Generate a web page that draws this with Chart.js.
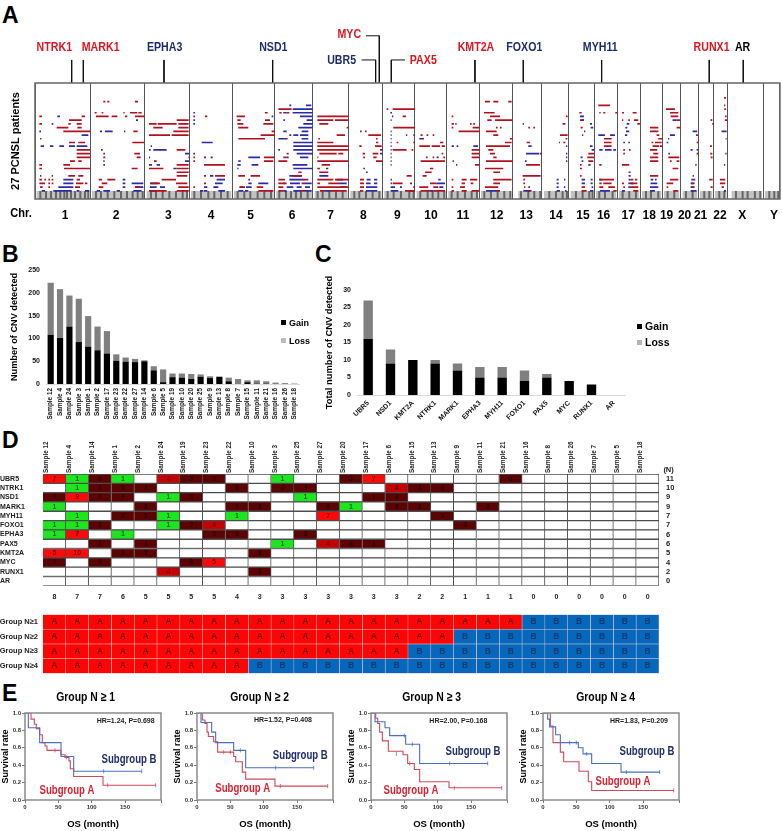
<!DOCTYPE html>
<html>
<head>
<meta charset="utf-8">
<title>CNV in PCNSL</title>
<script src="https://cdn.jsdelivr.net/npm/chart.js@4/dist/chart.umd.min.js"></script>
<style>
    html, body { margin: 0; padding: 0; background: #fff; }
    #page { position: relative; width: 782px; height: 831px; overflow: hidden; }
    canvas { position: absolute; }
    .letter { position: absolute; font: bold 23px "Liberation Sans", Arial, sans-serif; line-height: 1; color: #000; }
    .legend { position: absolute; font: bold 9px "Liberation Sans", Arial, sans-serif; line-height: 12px; color: #000; white-space: nowrap; }
    .legend i { display: inline-block; width: 5px; height: 5px; margin-right: 3px; vertical-align: 1px; }
</style>
</head>
<body>
<div id="page">
    <div class="letter" style="left:2px;top:4px">A</div>
    <div class="letter" style="left:2px;top:243px">B</div>
    <div class="letter" style="left:315px;top:243px">C</div>
    <div class="letter" style="left:2px;top:429px">D</div>
    <div class="letter" style="left:2px;top:682px">E</div>

    <canvas id="chartA" width="787" height="225" style="left:0;top:0"></canvas>
    <canvas id="chartB" width="310" height="205" style="left:0;top:225px"></canvas>
    <canvas id="chartC" width="320" height="190" style="left:310px;top:235px"></canvas>
    <canvas id="chartD" width="690" height="180" style="left:0;top:430px"></canvas>
    <canvas id="chartGroups" width="690" height="78" style="left:0;top:605px"></canvas>
    <canvas id="km1" width="172" height="156" style="left:0;top:675px"></canvas>
    <canvas id="km2" width="172" height="156" style="left:172px;top:675px"></canvas>
    <canvas id="km3" width="172" height="156" style="left:346px;top:675px"></canvas>
    <canvas id="km4" width="172" height="156" style="left:518px;top:675px"></canvas>

    <div class="legend" style="left:281px;top:317px"><i style="background:#000"></i>Gain</div>
    <div class="legend" style="left:281px;top:335px"><i style="background:#bdbdbd"></i>Loss</div>
    <div class="legend" style="left:637px;top:320px;font-size:10.5px"><i style="background:#000"></i>Gain</div>
    <div class="legend" style="left:637px;top:336px;font-size:10.5px"><i style="background:#b5b5b5"></i>Loss</div>
</div>

<script>
const FONT = '"Liberation Sans", Arial, sans-serif';
const RED = '#e0141f';
const NAVY = '#1d2c6b';

// --- panel A: position axis runs along the genome, rows are patients
const chrNames = ['1','2','3','4','5','6','7','8','9','10','11','12','13','14','15','16','17','18','19','20','21','22','X','Y'];
const chrEdges = [105,271,435,568,697,824,939,1046,1148,1245,1340,1438,1538,1626,1705,1783,1852,1921,1987,2041,2095,2140,2182,2290,2340];
const chrLabelPos = [195,348,505,633,752,876,992,1090,1192,1293,1389,1490,1579,1668,1749,1811,1885,1948,2000,2054,2102,2160,2227,2322];

const geneNames = ['NTRK1','MARK1','EPHA3','NSD1','UBR5','MYC','PAX5','KMT2A','FOXO1','MYH11','RUNX1','AR'];
const geneColors = [RED,RED,NAVY,NAVY,NAVY,RED,RED,RED,NAVY,NAVY,RED,'#000'];
const geneLabelX = [163,302,494,820,1025,1048,1270,1428,1573,1801,2135,2228];
const geneLabelRow = [-9.5,-9.5,-9.5,-9.5,-6.1,-13.1,-6.1,-9.5,-9.5,-9.5,-9.5,-9.5];
const geneLeaders = [
    [[215,-6.2],[215,0]],
    [[250,-6.2],[250,0]],
    [[492,-6.2],[492,0]],
    [[818,-6.2],[818,0]],
    [[1085,-6.2],[1127,-6.2],[1127,0]],
    [[1098,-12.7],[1138,-12.7],[1138,0]],
    [[1215,-6.2],[1174,-6.2],[1174,0]],
    [[1425,-6.2],[1425,0]],
    [[1570,-6.2],[1570,0]],
    [[1805,-6.2],[1805,0]],
    [[2128,-6.2],[2128,0]],
    [[2230,-6.2],[2230,0]]
];

const gainSegments = [
    [9,118,126],[10,207,245],[9,245,255],[11,118,126],[12,170,205],[11,205,212],[11,230,245],[12,232,245],[13,190,270],[16,207,225],[16,235,255],[18,230,270],[19,230,270],[20,230,270],[21,210,225],[21,235,245],[22,118,126],[23,118,126],[22,190,210],[23,192,270],[25,205,225],[25,235,250],[26,118,126],[26,133,138],[26,145,150],[26,155,160],[27,118,135],[27,145,150],[27,155,160],[26,230,240],[27,228,250],[27,255,262],[28,120,128],[28,145,150],[28,225,240],
    [5,310,316],[5,322,328],[5,405,414],[8,284,290],[9,288,326],[9,335,352],[8,305,310],[9,375,382],[8,370,374],[8,390,412],[8,415,425],[9,405,433],[13,400,413],[16,397,433],[19,403,420],[20,410,422],[19,310,315],[20,310,316],[22,310,315],[23,395,413],[26,296,306],[26,322,346],[27,305,322],[28,296,310],[28,405,420],
    [10,530,566],[11,447,470],[11,473,530],[11,535,566],[12,460,488],[12,535,566],[13,520,566],[14,447,510],[14,515,566],[18,530,556],[20,565,568],[21,462,470],[22,530,566],[23,447,490],[23,530,566],[24,530,566],[25,530,562],[26,485,528],[27,452,480],[27,528,562],[28,535,566],[29,447,500],[29,530,566],
    [9,580,585],[9,615,622],[20,580,585],[21,580,585],[22,612,675],[25,612,618],[25,645,675],[27,612,618],[28,580,585],
    [9,710,735],[10,712,722],[8,795,803],[10,795,810],[11,712,730],[11,790,820],[12,715,745],[13,815,824],[14,782,824],[15,715,795],[20,792,824],[21,792,820],[25,715,735],[25,752,780],[28,718,735],[28,770,790],[29,775,820],
    [7,835,875],[8,860,868],[8,838,845],[15,858,863],[20,850,860],[19,860,866],[21,835,862],[25,880,905],[24,895,905],[26,835,855],[27,835,860],[26,908,925],[27,905,915],[28,835,850],[29,835,850],[29,900,915],
    [9,952,1045],[10,952,1000],[10,1005,1045],[11,958,985],[12,1040,1046],[14,1010,1035],[15,955,960],[16,952,1000],[17,952,1045],[18,952,1045],[19,958,1010],[19,1015,1030],[20,952,955],[21,952,1045],[22,965,990],[23,952,960],[24,958,985],[26,952,1000],[26,1005,1045],[27,952,960],[27,985,1020],[28,952,1045],[29,960,975],[29,990,1040],
    [13,1080,1085],[13,1095,1100],[14,1105,1143],[15,1128,1133],[16,1128,1135],[17,1078,1085],[17,1125,1145],[18,1140,1148],[19,1088,1095],[19,1118,1135],[20,1090,1095],[20,1120,1130],[21,1128,1148],[26,1080,1092],[27,1080,1092],[28,1080,1092],[29,1080,1090],
    [7,1160,1165],[7,1178,1245],[9,1208,1218],[12,1180,1245],[14,1218,1222],[14,1240,1244],[16,1240,1245],[18,1178,1220],[16,1190,1195],[25,1220,1235],[27,1178,1208],[27,1230,1236],[29,1215,1245],[28,1240,1245],[18,1235,1240],
    [14,1262,1268],[14,1280,1285],[14,1298,1303],[16,1320,1330],[17,1258,1290],[17,1295,1320],[17,1325,1335],[19,1325,1330],[20,1330,1335],[20,1278,1283],[20,1298,1303],[21,1262,1335],[23,1290,1300],[24,1275,1295],[25,1268,1280],[27,1290,1310],[28,1258,1285],[28,1300,1315],[29,1262,1290],[29,1300,1335],
    [9,1355,1360],[11,1355,1362],[11,1410,1415],[11,1420,1425],[12,1355,1360],[12,1418,1438],[13,1376,1438],[18,1415,1438],[19,1415,1438],[20,1415,1438],[22,1425,1438],[26,1355,1360],[26,1385,1400],[26,1410,1432],[27,1385,1395],[27,1412,1420],[28,1355,1360],[28,1380,1395],[29,1355,1362],[29,1385,1400],[29,1415,1438],
    [5,1455,1470],[5,1480,1495],[5,1525,1535],[8,1452,1484],[9,1470,1500],[10,1462,1475],[10,1485,1538],[12,1488,1493],[12,1500,1505],[13,1458,1490],[14,1480,1495],[15,1530,1538],[16,1515,1535],[17,1458,1530],[18,1465,1480],[19,1470,1485],[20,1480,1490],[21,1458,1538],[23,1455,1510],[24,1480,1500],[26,1480,1535],[27,1480,1500],[28,1455,1495],[29,1490,1500],
    [12,1585,1590],[12,1600,1605],[16,1580,1590],[19,1620,1626],[22,1578,1620],[25,1568,1622],[26,1570,1575],[27,1570,1575],[28,1572,1576],[29,1585,1595],
    [9,1698,1703],[11,1688,1696],[14,1680,1703],[16,1690,1696],
    [8,1738,1745],[10,1745,1752],[12,1742,1748],[14,1746,1750],[19,1765,1782],[20,1762,1782],[21,1765,1780],[22,1740,1745],[23,1740,1746],[25,1740,1745],[28,1745,1755],[29,1745,1760],
    [6,1800,1830],[6,1795,1800],[8,1798,1802],[8,1810,1816],[8,1846,1852],[15,1812,1835],[16,1812,1835],[17,1812,1835],[22,1798,1805],[26,1798,1842],[27,1798,1805],[27,1810,1835],[28,1798,1810],[28,1825,1845],[29,1840,1850],
    [8,1866,1872],[8,1898,1910],[10,1866,1870],[10,1885,1890],[10,1902,1915],[11,1912,1920],[18,1870,1875],[18,1887,1892],[19,1870,1875],[22,1866,1888],[26,1892,1900],[26,1905,1912],[27,1866,1872],[27,1892,1912],[28,1870,1875],[28,1890,1915],[29,1900,1915],
    [12,1950,1975],[13,1950,1975],[14,1970,1978],[15,1975,1987],[16,1965,1985],[16,1955,1960],[17,1980,1987],[17,1958,1978],[18,1950,1972],[19,1960,1975],[20,1950,1975],[21,1950,1975],[25,1950,1975],
    [7,1998,2025],[8,2010,2035],[9,2012,2035],[10,2030,2040],[12,2030,2040],[20,2005,2038],[21,2010,2015],[21,2030,2038],[23,2018,2035],[26,2010,2035],[27,2000,2020],[28,2000,2005],[29,2020,2035],
    [14,2088,2094],[16,2090,2095],[19,2090,2095],[27,2074,2080],[28,2074,2080],[26,2082,2086],
    [17,2130,2136],[19,2131,2137],[20,2132,2138],[26,2128,2138],[28,2132,2138],[10,2133,2137],
    [4,2172,2178],[6,2172,2176],[7,2173,2178],[9,2175,2180],[10,2175,2182],[15,2177,2180],[26,2160,2176],[27,2160,2176],[28,2165,2172]
];

const lossSegments = [
    [9,172,180],[11,155,160],[13,118,123],[15,120,124],[14,245,265],[17,122,132],[17,150,160],[17,178,192],[17,207,225],[17,230,262],[25,120,124],[25,155,159],[26,190,220],[27,190,220],[28,175,220],[29,125,135],[29,160,215],[29,230,238],[29,255,268],
    [13,300,306],[13,315,338],[13,372,376],[10,408,414],[18,303,308],[21,310,314],[26,368,376],[27,368,376],[27,395,430],[28,368,376],[28,405,430],[29,290,300],[29,310,330],[29,350,360],[29,400,425],
    [17,452,456],[18,447,452],[18,460,500],[19,555,568],[20,447,450],[21,555,568],[22,447,456],[22,470,480],[23,520,530],[27,450,475],[28,450,470],[28,480,495],[29,450,470],
    [8,580,585],[10,580,585],[11,580,585],[16,605,638],[19,580,585],[20,612,618],[20,632,638],[25,630,640],[26,650,675],[27,645,668],[28,612,622],[28,640,655],[29,612,622],[29,600,610],[29,655,675],
    [9,815,820],[20,745,780],[21,715,722],[22,712,722],[22,755,775],[23,712,716],[26,745,750],[27,745,755],[27,775,805],[28,738,755],[28,720,730],[29,715,730],[29,735,745],
    [6,868,874],[6,918,934],[7,878,938],[8,878,938],[8,850,860],[9,900,938],[10,850,855],[10,920,938],[11,910,938],[12,895,938],[13,905,925],[13,850,860],[14,868,874],[14,880,895],[14,900,925],[15,835,858],[15,905,925],[16,880,938],[17,880,938],[18,835,840],[18,880,938],[19,890,938],[20,860,866],[20,900,925],[22,878,922],[23,880,938],[25,868,906],[26,868,910],[27,850,855],[27,870,900],[27,915,935],[28,860,880],[28,890,905],[28,915,930],[29,850,860],[29,880,900],[29,915,935],
    [23,978,985],[25,958,985],[26,1010,1030],[27,1020,1040],[28,1020,1040],[29,975,990],
    [23,1090,1095],[24,1098,1103],[26,1100,1112],[26,1122,1132],[27,1098,1112],[27,1122,1132],[28,1098,1132],[29,1098,1132],[19,1140,1146],
    [8,1171,1176],[9,1176,1180],[10,1172,1175],[13,1172,1175],[14,1172,1175],[15,1172,1175],[16,1172,1175],[17,1172,1175],[18,1172,1175],[19,1172,1175],[20,1172,1175],[21,1172,1175],[22,1172,1175],[26,1172,1176],[27,1172,1176],[28,1172,1185],[29,1172,1195],[28,1200,1206],[29,1230,1240],
    [15,1258,1272],[20,1310,1316],[21,1310,1314],[26,1315,1322],[27,1310,1335],[28,1318,1330],[29,1290,1300],
    [11,1366,1370],[17,1355,1362],[17,1370,1375],[17,1420,1434],[22,1368,1372],[21,1358,1362],
    [29,1458,1495],
    [11,1568,1572],[19,1578,1618],[21,1575,1580],[17,1585,1595],[28,1585,1590],[29,1570,1590],
    [16,1677,1680],[15,1697,1702],[17,1698,1702],[19,1698,1702],[20,1698,1702],[21,1698,1702],[26,1670,1676],[26,1692,1696],[27,1670,1676],[28,1670,1676],[28,1692,1696],[29,1670,1680],[29,1695,1700],
    [9,1740,1752],[10,1740,1752],[11,1770,1776],[12,1772,1780],[13,1752,1756],[17,1770,1778],[18,1775,1782],[20,1742,1748],[21,1745,1750],[22,1765,1772],[26,1745,1755],[27,1745,1755],[26,1772,1778],[27,1772,1778],[28,1775,1780],[29,1770,1780],
    [14,1798,1815],[14,1830,1845],[14,1795,1800],[18,1798,1808],[18,1815,1835],[18,1840,1848],[26,1798,1805],[29,1800,1830],
    [11,1880,1888],[12,1876,1882],[13,1878,1888],[14,1875,1882],[16,1870,1875],[16,1885,1890],[24,1886,1892],[25,1886,1892],[26,1886,1892],[27,1885,1900],[28,1885,1890],[29,1866,1875],
    [26,1952,1960],[27,1952,1972],[28,1950,1975],[29,1950,1965],[26,1965,1970],
    [10,2018,2030],[14,2010,2025],[16,2000,2005],[19,2005,2010],[15,2004,2008],
    [13,2078,2092],[18,2072,2078],[18,2090,2094],[22,2086,2090],[25,2078,2082],[26,2074,2082],[27,2072,2084],[28,2072,2084],[29,2072,2090],
    [11,2137,2142],[10,2132,2136],
    [13,2165,2180],[19,2176,2180],[22,2172,2176],[29,2172,2178]
];

// ideogram strip under the rows
const ideogramRow = 30.1;
const ideogramSpans = [[110,268],[276,432],[440,565],[573,694],[702,821],[829,936],[944,1043],[1051,1145],[1153,1243],[1250,1337],[1345,1435],[1443,1535],[1555,1623],[1632,1702],[1712,1780],[1788,1849],[1857,1918],[1926,1984],[1992,2038],[2048,2092],[2100,2137],[2145,2180],[2195,2285],[2295,2338]];
const ideogramBands = [118,135,150,165,178,190,198,210,222,238,252,262,285,300,320,340,360,378,395,410,425,450,465,485,505,525,545,558,580,600,622,640,660,680,710,730,748,770,790,810,835,855,870,885,900,920,950,965,985,1005,1025,1060,1075,1095,1115,1135,1160,1178,1200,1225,1238,1258,1280,1295,1312,1330,1352,1370,1392,1412,1428,1450,1470,1490,1510,1528,1560,1582,1600,1618,1645,1665,1685,1698,1725,1745,1765,1775,1795,1812,1835,1865,1885,1905,1935,1950,1972,2000,2020,2055,2075,2110,2125,2155,2170,2205,2225,2240,2262,2278,2305,2320,2332];

// --- panel B
const sampleOrderB = ['Sample 12','Sample 4','Sample 24','Sample 3','Sample 1','Sample 2','Sample 17','Sample 23','Sample 22','Sample 27','Sample 14','Sample 6','Sample 5','Sample 19','Sample 10','Sample 20','Sample 25','Sample 9','Sample 13','Sample 8','Sample 7','Sample 15','Sample 11','Sample 21','Sample 16','Sample 26','Sample 18'];
const cnvGain = [108,101,126,92,82,74,67,51,49,48,50,30,4,15,14,11,16,13,16,6,0,4,1,1,0,0,0];
const cnvLoss = [114,107,68,95,67,52,49,14,9,7,2,9,28,8,9,11,5,4,0,8,11,4,7,5,3,2,1];
const countTicks = [0,50,100,150,200,250];

// --- panel C
const geneOrderC = ['UBR5','NSD1','KMT2A','NTRK1','MARK1','EPHA3','MYH11','FOXO1','PAX5','MYC','RUNX1','AR'];
const geneGain = [16,9,10,9,7,5,5,4,5,4,3,0];
const geneLoss = [11,4,0,1,2,3,3,3,1,0,0,0];
const geneCountTicks = [0,5,10,15,20,25,30];

// --- panel D
const heatSamples = ['Sample 12','Sample 4','Sample 14','Sample 1','Sample 2','Sample 24','Sample 19','Sample 23','Sample 22','Sample 10','Sample 3','Sample 25','Sample 27','Sample 20','Sample 17','Sample 6','Sample 15','Sample 13','Sample 9','Sample 11','Sample 21','Sample 16','Sample 8','Sample 26','Sample 7','Sample 5','Sample 18'];
const heatGenes = ['UBR5','NTRK1','NSD1','MARK1','MYH11','FOXO1','EPHA3','PAX5','KMT2A','MYC','RUNX1','AR'];
const geneTotals = ['11','10','9','9','7','7','6','6','5','4','2','0'];
const sampleTotals = ['8','7','7','6','5','5','5','5','4','3','3','3','3','3','3','3','2','2','1','1','1','0','0','0','0','0','0'];
const ubr5Cells  = [7,1,3,1,0,4,3,3,0,0,1,0,0,3,7,0,0,0,0,0,3,0,0,0,0,0,0];
const ntrk1Cells = [0,1,3,3,3,0,0,0,3,0,3,3,0,0,0,4,3,3,0,0,0,0,0,0,0,0,0];
const nsd1Cells  = [3,9,3,3,0,1,3,0,0,0,0,1,0,0,3,3,0,0,0,0,0,0,0,0,0,0,0];
const mark1Cells = [1,0,0,0,3,0,0,0,3,3,0,0,3,1,0,3,3,0,0,3,0,0,0,0,0,0,0];
const myh11Cells = [0,1,0,3,3,1,0,0,1,0,0,0,7,0,0,0,0,3,0,0,0,0,0,0,0,0,0];
const foxo1Cells = [1,1,3,0,0,1,3,4,0,0,0,0,0,0,0,0,0,0,3,0,0,0,0,0,0,0,0];
const epha3Cells = [1,7,0,1,0,0,0,3,3,0,0,3,0,0,0,0,0,0,0,0,0,0,0,0,0,0,0];
const pax5Cells  = [0,0,3,0,3,0,0,0,0,0,1,0,4,3,3,0,0,0,0,0,0,0,0,0,0,0,0];
const kmt2aCells = [5,10,0,3,3,0,0,0,0,3,0,0,0,0,0,0,0,0,0,0,0,0,0,0,0,0,0];
const mycCells   = [3,0,3,0,0,0,3,5,0,0,0,0,0,0,0,0,0,0,0,0,0,0,0,0,0,0,0];
const runx1Cells = [0,0,0,0,0,4,0,0,0,3,0,0,0,0,0,0,0,0,0,0,0,0,0,0,0,0,0];
const arCells    = [0,0,0,0,0,0,0,0,0,0,0,0,0,0,0,0,0,0,0,0,0,0,0,0,0,0,0];
const heatRows = [ubr5Cells,ntrk1Cells,nsd1Cells,mark1Cells,myh11Cells,foxo1Cells,epha3Cells,pax5Cells,kmt2aCells,mycCells,runx1Cells,arCells];

const groupNames = ['Group N\u22651','Group N\u22652','Group N\u22653','Group N\u22654'];
const groupLetters = ['AAAAAAAAAAAAAAAAAAAAABBBBBB','AAAAAAAAAAAAAAAAAABBBBBBBBB','AAAAAAAAAAAAAAAABBBBBBBBBBB','AAAAAAAAABBBBBBBBBBBBBBBBBB'];

// --- panel E: [month, survival]
const km1A = [[0,1],[9,0.93],[14,0.87],[17,0.82],[22,0.75],[26,0.66],[30,0.62],[33,0.57],[54,0.52],[60,0.49],[66,0.45],[68,0.36],[73,0.27],[117,0.17],[196,0.17]];
const km1B = [[0,1],[5,0.83],[22,0.66],[54,0.5],[73,0.33],[175,0.33]];
const km1CensorA = [[45,0.57],[62,0.49],[124,0.17],[196,0.17]];
const km1CensorB = [[118,0.33],[175,0.33]];
const km2A = [[0,1],[8,0.92],[12,0.88],[15,0.78],[17,0.73],[25,0.67],[31,0.55],[55,0.5],[58,0.44],[68,0.32],[73,0.24],[117,0.16],[196,0.16]];
const km2B = [[0,1],[6,0.89],[22,0.78],[28,0.66],[55,0.57],[73,0.37],[175,0.37]];
const km2CensorA = [[40,0.55],[50,0.55],[125,0.16],[196,0.16]];
const km2CensorB = [[65,0.57],[118,0.37],[175,0.37]];
const km3A = [[0,1],[7,0.94],[10,0.88],[13,0.78],[17,0.68],[26,0.56],[48,0.52],[55,0.42],[65,0.35],[73,0.21],[117,0.14],[196,0.14]];
const km3B = [[0,1],[6,0.9],[21,0.83],[28,0.74],[52,0.64],[73,0.42],[175,0.42]];
const km3CensorA = [[38,0.53],[58,0.42],[125,0.14],[196,0.14]];
const km3CensorB = [[50,0.74],[62,0.64],[118,0.42],[175,0.42]];
const km4A = [[0,1],[11,0.85],[15,0.66],[26,0.55],[31,0.44],[54,0.33],[68,0.21],[73,0.11],[196,0.11]];
const km4B = [[0,1],[7,0.93],[10,0.84],[19,0.75],[26,0.66],[53,0.6],[60,0.53],[73,0.42],[117,0.32],[175,0.32]];
const km4CensorA = [[196,0.11]];
const km4CensorB = [[40,0.66],[50,0.66],[65,0.53],[125,0.32],[175,0.32]];
const kmMonthTicks = [0,50,100,150,204];
const kmRateTicks = [0,0.2,0.4,0.6,0.8,1];

// --- helpers
function boldFont(size) {
    return { family: FONT, size: size, weight: 'bold' };
}

// text placed by scale values; squeeze narrows it to look like the condensed type of the figure
function notesPlugin(items) {
    return {
        id: 'notes',
        afterDraw(chart) {
            const ctx = chart.ctx;
            items.forEach(note => {
                ctx.save();
                ctx.textAlign = 'center';
                ctx.textBaseline = 'middle';
                ctx.font = note.font || `bold 8px ${FONT}`;
                ctx.fillStyle = note.color || '#000';
                ctx.translate(chart.scales.x.getPixelForValue(note.x), chart.scales.y.getPixelForValue(note.y));
                ctx.scale(note.squeeze || 1, 1);
                ctx.fillText(note.text, 0, 0);
                ctx.restore();
            });
        }
    };
}

function framePlugin(color, width) {
    return {
        id: 'frame',
        afterDatasetsDraw(chart) {
            const a = chart.chartArea;
            chart.ctx.save();
            chart.ctx.strokeStyle = color;
            chart.ctx.lineWidth = width;
            chart.ctx.strokeRect(a.left, a.top, a.right - a.left, a.bottom - a.top);
            chart.ctx.restore();
        }
    };
}

const segmentPoints = segments => segments.flatMap(([row, start, end]) => [
    { x: start, y: row }, { x: end, y: row }, { x: NaN, y: NaN }
]);

function segmentDataset(points, color, width) {
    return {
        data: points,
        showLine: true,
        borderColor: color,
        borderWidth: width,
        pointRadius: 0,
        spanGaps: false
    };
}

// --- chart A
const leaderDatasets = geneLeaders.map(path => ({
    data: path.map(([x, y]) => ({ x: x, y: y })),
    showLine: true,
    borderColor: '#111',
    borderWidth: 1,
    pointRadius: 0,
    clip: false
}));

new Chart(document.getElementById('chartA'), {
    type: 'scatter',
    data: {
        datasets: [
            segmentDataset(segmentPoints(gainSegments), '#b3101e', 1.7),
            segmentDataset(segmentPoints(lossSegments), '#2a2aaa', 1.7),
            segmentDataset(segmentPoints(ideogramBands.map(b => [ideogramRow, b, b + 6])), '#666', 8),
            segmentDataset(segmentPoints(ideogramSpans.map(s => [ideogramRow, s[0], s[1]])), '#c2c2c2', 8),
            ...leaderDatasets
        ]
    },
    options: {
        responsive: false,
        animation: false,
        layout: { padding: { left: 0, right: 2, top: 83, bottom: 0 } },
        plugins: { legend: { display: false }, tooltip: { enabled: false } },
        scales: {
            x: {
                type: 'linear', min: chrEdges[0], max: chrEdges[chrEdges.length - 1],
                afterBuildTicks: s => { s.ticks = chrEdges.map(v => ({ value: v })); },
                afterFit: s => { s.height = 0; },
                ticks: { display: false, autoSkip: false },
                grid: { color: '#555', lineWidth: 1, drawTicks: false },
                border: { display: false }
            },
            x2: {
                type: 'linear', position: 'bottom', min: chrEdges[0], max: chrEdges[chrEdges.length - 1],
                afterBuildTicks: s => { s.ticks = chrLabelPos.map(v => ({ value: v })); },
                afterFit: s => { s.height = 26; },
                ticks: {
                    autoSkip: false, maxRotation: 0, padding: 9, color: '#000', font: boldFont(12),
                    callback: (value, index) => chrNames[index]
                },
                grid: { display: false, drawTicks: false },
                border: { display: false }
            },
            y: {
                type: 'linear', min: 0, max: 31.2, reverse: true,
                afterFit: s => { s.width = 35; },
                ticks: { display: false },
                grid: { display: false, drawTicks: false },
                border: { display: false },
                title: { display: true, text: '27 PCNSL patients', color: '#000', font: boldFont(11), padding: { top: 9, bottom: 0 } }
            }
        }
    },
    plugins: [
        framePlugin('#666', 1.5),
        notesPlugin(geneNames.map((name, i) => ({
            text: name, x: geneLabelX[i], y: geneLabelRow[i], color: geneColors[i], font: `bold 12.5px ${FONT}`, squeeze: 0.85
        })).concat([{ text: 'Chr.', x: 63, y: 35, font: `bold 13px ${FONT}`, squeeze: 0.85 }]))
    ]
});

// --- stacked bars for B and C
function stackedBars(id, labels, gain, loss, area) {
    new Chart(document.getElementById(id), {
        type: 'bar',
        data: {
            labels: labels,
            datasets: [
                { label: 'Gain', data: gain, backgroundColor: '#000', barPercentage: area.bar, categoryPercentage: 1 },
                { label: 'Loss', data: loss, backgroundColor: '#808080', barPercentage: area.bar, categoryPercentage: 1 }
            ]
        },
        options: {
            responsive: false,
            animation: false,
            layout: { padding: { left: 0, right: area.right, top: area.top, bottom: 0 } },
            plugins: { legend: { display: false }, tooltip: { enabled: false } },
            scales: {
                x: {
                    stacked: true,
                    afterFit: s => { s.height = area.xHeight; },
                    ticks: { autoSkip: false, maxRotation: area.rotation, minRotation: area.rotation, padding: 4, color: '#111', font: boldFont(area.tickSize) },
                    grid: { display: false, drawTicks: false },
                    border: { color: '#d8d8d8' }
                },
                y: {
                    stacked: true,
                    min: 0,
                    max: area.max,
                    afterBuildTicks: s => { s.ticks = area.ticks.map(v => ({ value: v })); },
                    afterFit: s => { s.width = area.yWidth; },
                    ticks: { padding: 6, color: '#111', font: boldFont(7) },
                    grid: { display: false, drawTicks: false },
                    border: { display: false },
                    title: { display: true, text: area.title, color: '#000', font: boldFont(area.titleSize), padding: { top: area.titlePad, bottom: 0 } }
                }
            }
        }
    });
}

stackedBars('chartB', sampleOrderB, cnvGain, cnvLoss, {
    top: 45, right: 11, xHeight: 46, yWidth: 46, bar: 0.66, rotation: 90, tickSize: 6.4,
    max: 250, ticks: countTicks, title: 'Number of CNV detected', titleSize: 9.2, titlePad: 9
});
stackedBars('chartC', geneOrderC, geneGain, geneLoss, {
    top: 55, right: 5, xHeight: 30, yWidth: 47, bar: 0.42, rotation: 45, tickSize: 7,
    max: 30, ticks: geneCountTicks, title: 'Total number of CNV detected', titleSize: 9.4, titlePad: 14
});

// --- chart D heat map, one stacked dataset per sample
function cellColor(value) {
    if (value === 0) return '#fff';
    if (value === 1) return '#1ee61e';
    if (value === 3) return '#5c0404';
    if (value === 4) return '#c40404';
    return '#fb0a0a';
}

function cellTextColor(value) {
    if (value === 1) return '#0b5d0b';
    if (value === 3) return '#2c0000';
    return '#7a0000';
}

const heatNotes = [];
heatRows.forEach((row, r) => row.forEach((value, c) => {
    if (value > 0) {
        heatNotes.push({ text: String(value), x: c + 0.5, y: r, color: cellTextColor(value), font: `bold 7px ${FONT}` });
    }
}));
heatNotes.push({ text: '(N)', x: 27.42, y: -0.95, color: '#222', font: `bold 7.5px ${FONT}` });

const sampleTicks = () => heatSamples.map((_, i) => ({ value: i + 0.5 }));

new Chart(document.getElementById('chartD'), {
    type: 'bar',
    data: {
        labels: heatGenes,
        datasets: heatSamples.map((name, c) => ({
            label: name,
            data: heatGenes.map(() => 1),
            backgroundColor: heatRows.map(row => cellColor(row[c])),
            borderColor: '#4d4d4d',
            borderWidth: 1,
            barPercentage: 1,
            categoryPercentage: 1
        }))
    },
    options: {
        indexAxis: 'y',
        responsive: false,
        animation: false,
        layout: { padding: 0 },
        plugins: { legend: { display: false }, tooltip: { enabled: false } },
        scales: {
            x: {
                type: 'linear', position: 'top', stacked: true, min: 0, max: 27,
                afterBuildTicks: s => { s.ticks = sampleTicks(); },
                afterFit: s => { s.height = 44; },
                ticks: {
                    autoSkip: false, minRotation: 90, maxRotation: 90, padding: 1, color: '#222', font: boldFont(6.4),
                    callback: (value, index) => heatSamples[index]
                },
                grid: { display: false, drawTicks: false },
                border: { display: false }
            },
            x2: {
                type: 'linear', position: 'bottom', min: 0, max: 27,
                afterBuildTicks: s => { s.ticks = sampleTicks(); },
                afterFit: s => { s.height = 16; },
                ticks: {
                    autoSkip: false, maxRotation: 0, padding: 7, color: '#222', font: boldFont(7),
                    callback: (value, index) => sampleTotals[index]
                },
                grid: { display: false, drawTicks: false },
                border: { display: false }
            },
            y: {
                type: 'category', stacked: true,
                afterFit: s => { s.width = 43; },
                ticks: { autoSkip: false, crossAlign: 'far', padding: 20, color: '#222', font: boldFont(7) },
                grid: { display: false, drawTicks: false },
                border: { display: false }
            },
            y2: {
                type: 'category', position: 'right', labels: geneTotals, offset: true,
                afterFit: s => { s.width = 31; },
                ticks: { autoSkip: false, padding: 7, color: '#222', font: boldFont(7.5) },
                grid: { display: false, drawTicks: false },
                border: { display: false }
            }
        }
    },
    plugins: [notesPlugin(heatNotes)]
});

// --- group assignment grid
const groupNotes = [];
groupLetters.forEach((letters, r) => heatSamples.forEach((_, c) => {
    groupNotes.push({
        text: letters[c], x: c + 0.5, y: r,
        color: letters[c] === 'A' ? '#7d0000' : '#163a6b',
        font: `bold 8.5px ${FONT}`
    });
}));

new Chart(document.getElementById('chartGroups'), {
    type: 'bar',
    data: {
        labels: groupNames,
        datasets: heatSamples.map((name, c) => ({
            label: name,
            data: groupNames.map(() => 1),
            backgroundColor: groupLetters.map(letters => letters[c] === 'A' ? '#fb0505' : '#0668bc'),
            borderColor: '#f3c9c9',
            borderWidth: 0.6,
            barPercentage: 1,
            categoryPercentage: 1
        }))
    },
    options: {
        indexAxis: 'y',
        responsive: false,
        animation: false,
        layout: { padding: { left: 0, right: 31, top: 0, bottom: 0 } },
        plugins: { legend: { display: false }, tooltip: { enabled: false } },
        scales: {
            x: {
                type: 'linear', stacked: true, min: 0, max: 27,
                ticks: { display: false },
                grid: { display: false, drawTicks: false },
                border: { display: false },
                afterFit: s => { s.height = 0; }
            },
            y: {
                type: 'category', stacked: true,
                afterFit: s => { s.width = 43; },
                ticks: { autoSkip: false, padding: 5, color: '#222', font: boldFont(7.5) },
                grid: { display: false, drawTicks: false },
                border: { display: false }
            }
        }
    },
    plugins: [notesPlugin(groupNotes)]
});

// --- panel E survival curves
function kmChart(id, curveA, curveB, censorA, censorB, texts) {
    const asPoints = list => list.map(([x, y]) => ({ x: x, y: y }));
    const censor = (list, color) => ({
        data: asPoints(list),
        showLine: false,
        pointStyle: 'line',
        rotation: 90,
        pointRadius: 2,
        pointBorderColor: color,
        pointBorderWidth: 0.8
    });
    new Chart(document.getElementById(id), {
        type: 'scatter',
        data: {
            datasets: [
                { data: asPoints(curveB), showLine: true, stepped: true, borderColor: '#4a6fc0', borderWidth: 1.1, pointRadius: 0 },
                { data: asPoints(curveA), showLine: true, stepped: true, borderColor: '#cf4a58', borderWidth: 1.1, pointRadius: 0 },
                censor(censorB, '#4a6fc0'),
                censor(censorA, '#cf4a58')
            ]
        },
        options: {
            responsive: false,
            animation: false,
            layout: { padding: { left: 0, right: 11, top: 38, bottom: 0 } },
            plugins: { legend: { display: false }, tooltip: { enabled: false } },
            scales: {
                x: {
                    type: 'linear', min: 0, max: 204,
                    afterBuildTicks: s => { s.ticks = kmMonthTicks.map(v => ({ value: v })); },
                    afterFit: s => { s.height = 31; },
                    ticks: {
                        autoSkip: false, maxRotation: 0, padding: 1, color: '#333', font: boldFont(6),
                        callback: value => value === 204 ? '' : String(value)
                    },
                    grid: { drawOnChartArea: false, color: '#777', tickLength: 3 },
                    border: { display: false },
                    title: { display: true, text: 'OS (month)', color: '#000', font: boldFont(9.5), padding: { top: 0, bottom: 1 } }
                },
                y: {
                    type: 'linear', min: 0, max: 1,
                    afterBuildTicks: s => { s.ticks = kmRateTicks.map(v => ({ value: v })); },
                    afterFit: s => { s.width = 25; },
                    ticks: { padding: 1, color: '#333', font: boldFont(6), callback: value => value.toFixed(1) },
                    grid: { drawOnChartArea: false, color: '#777', tickLength: 3 },
                    border: { display: false },
                    title: { display: true, text: 'Survival rate', color: '#000', font: boldFont(9), padding: { top: 0, bottom: 0 } }
                }
            }
        },
        plugins: [framePlugin('#8a8a8a', 1.5), notesPlugin(texts)]
    });
}

function kmTexts(title, titleX, hr, hrX, hrY, bX, bY, aX, aY) {
    return [
        { text: title, x: titleX, y: 1.18, font: `bold 13px ${FONT}`, squeeze: 0.8 },
        { text: hr, x: hrX, y: hrY, color: '#222', font: `bold 7px ${FONT}` },
        { text: 'Subgroup B', x: bX, y: bY, color: NAVY, font: `bold 12px ${FONT}`, squeeze: 0.8 },
        { text: 'Subgroup A', x: aX, y: aY, color: '#d9202f', font: `bold 12px ${FONT}`, squeeze: 0.8 }
    ];
}

kmChart('km1', km1A, km1B, km1CensorA, km1CensorB, kmTexts('Group N \u2265 1', 91, 'HR=1.24, P=0.698', 151, 0.91, 156, 0.46, 63, 0.107));
kmChart('km2', km2A, km2B, km2CensorA, km2CensorB, kmTexts('Group N \u2265 2', 94, 'HR=1.52, P=0.408', 129, 0.92, 155, 0.506, 68.7, 0.125));
kmChart('km3', km3A, km3B, km3CensorA, km3CensorB, kmTexts('Group N \u2265 3', 91, 'HR=2.00, P=0.168', 131, 0.91, 153, 0.55, 60, 0.107));
kmChart('km4', km4A, km4B, km4CensorA, km4CensorB, kmTexts('Group N \u2265 4', 94, 'HR=1.83, P=0.209', 144, 0.91, 156, 0.55, 120, 0.21));
</script>
</body>
</html>
